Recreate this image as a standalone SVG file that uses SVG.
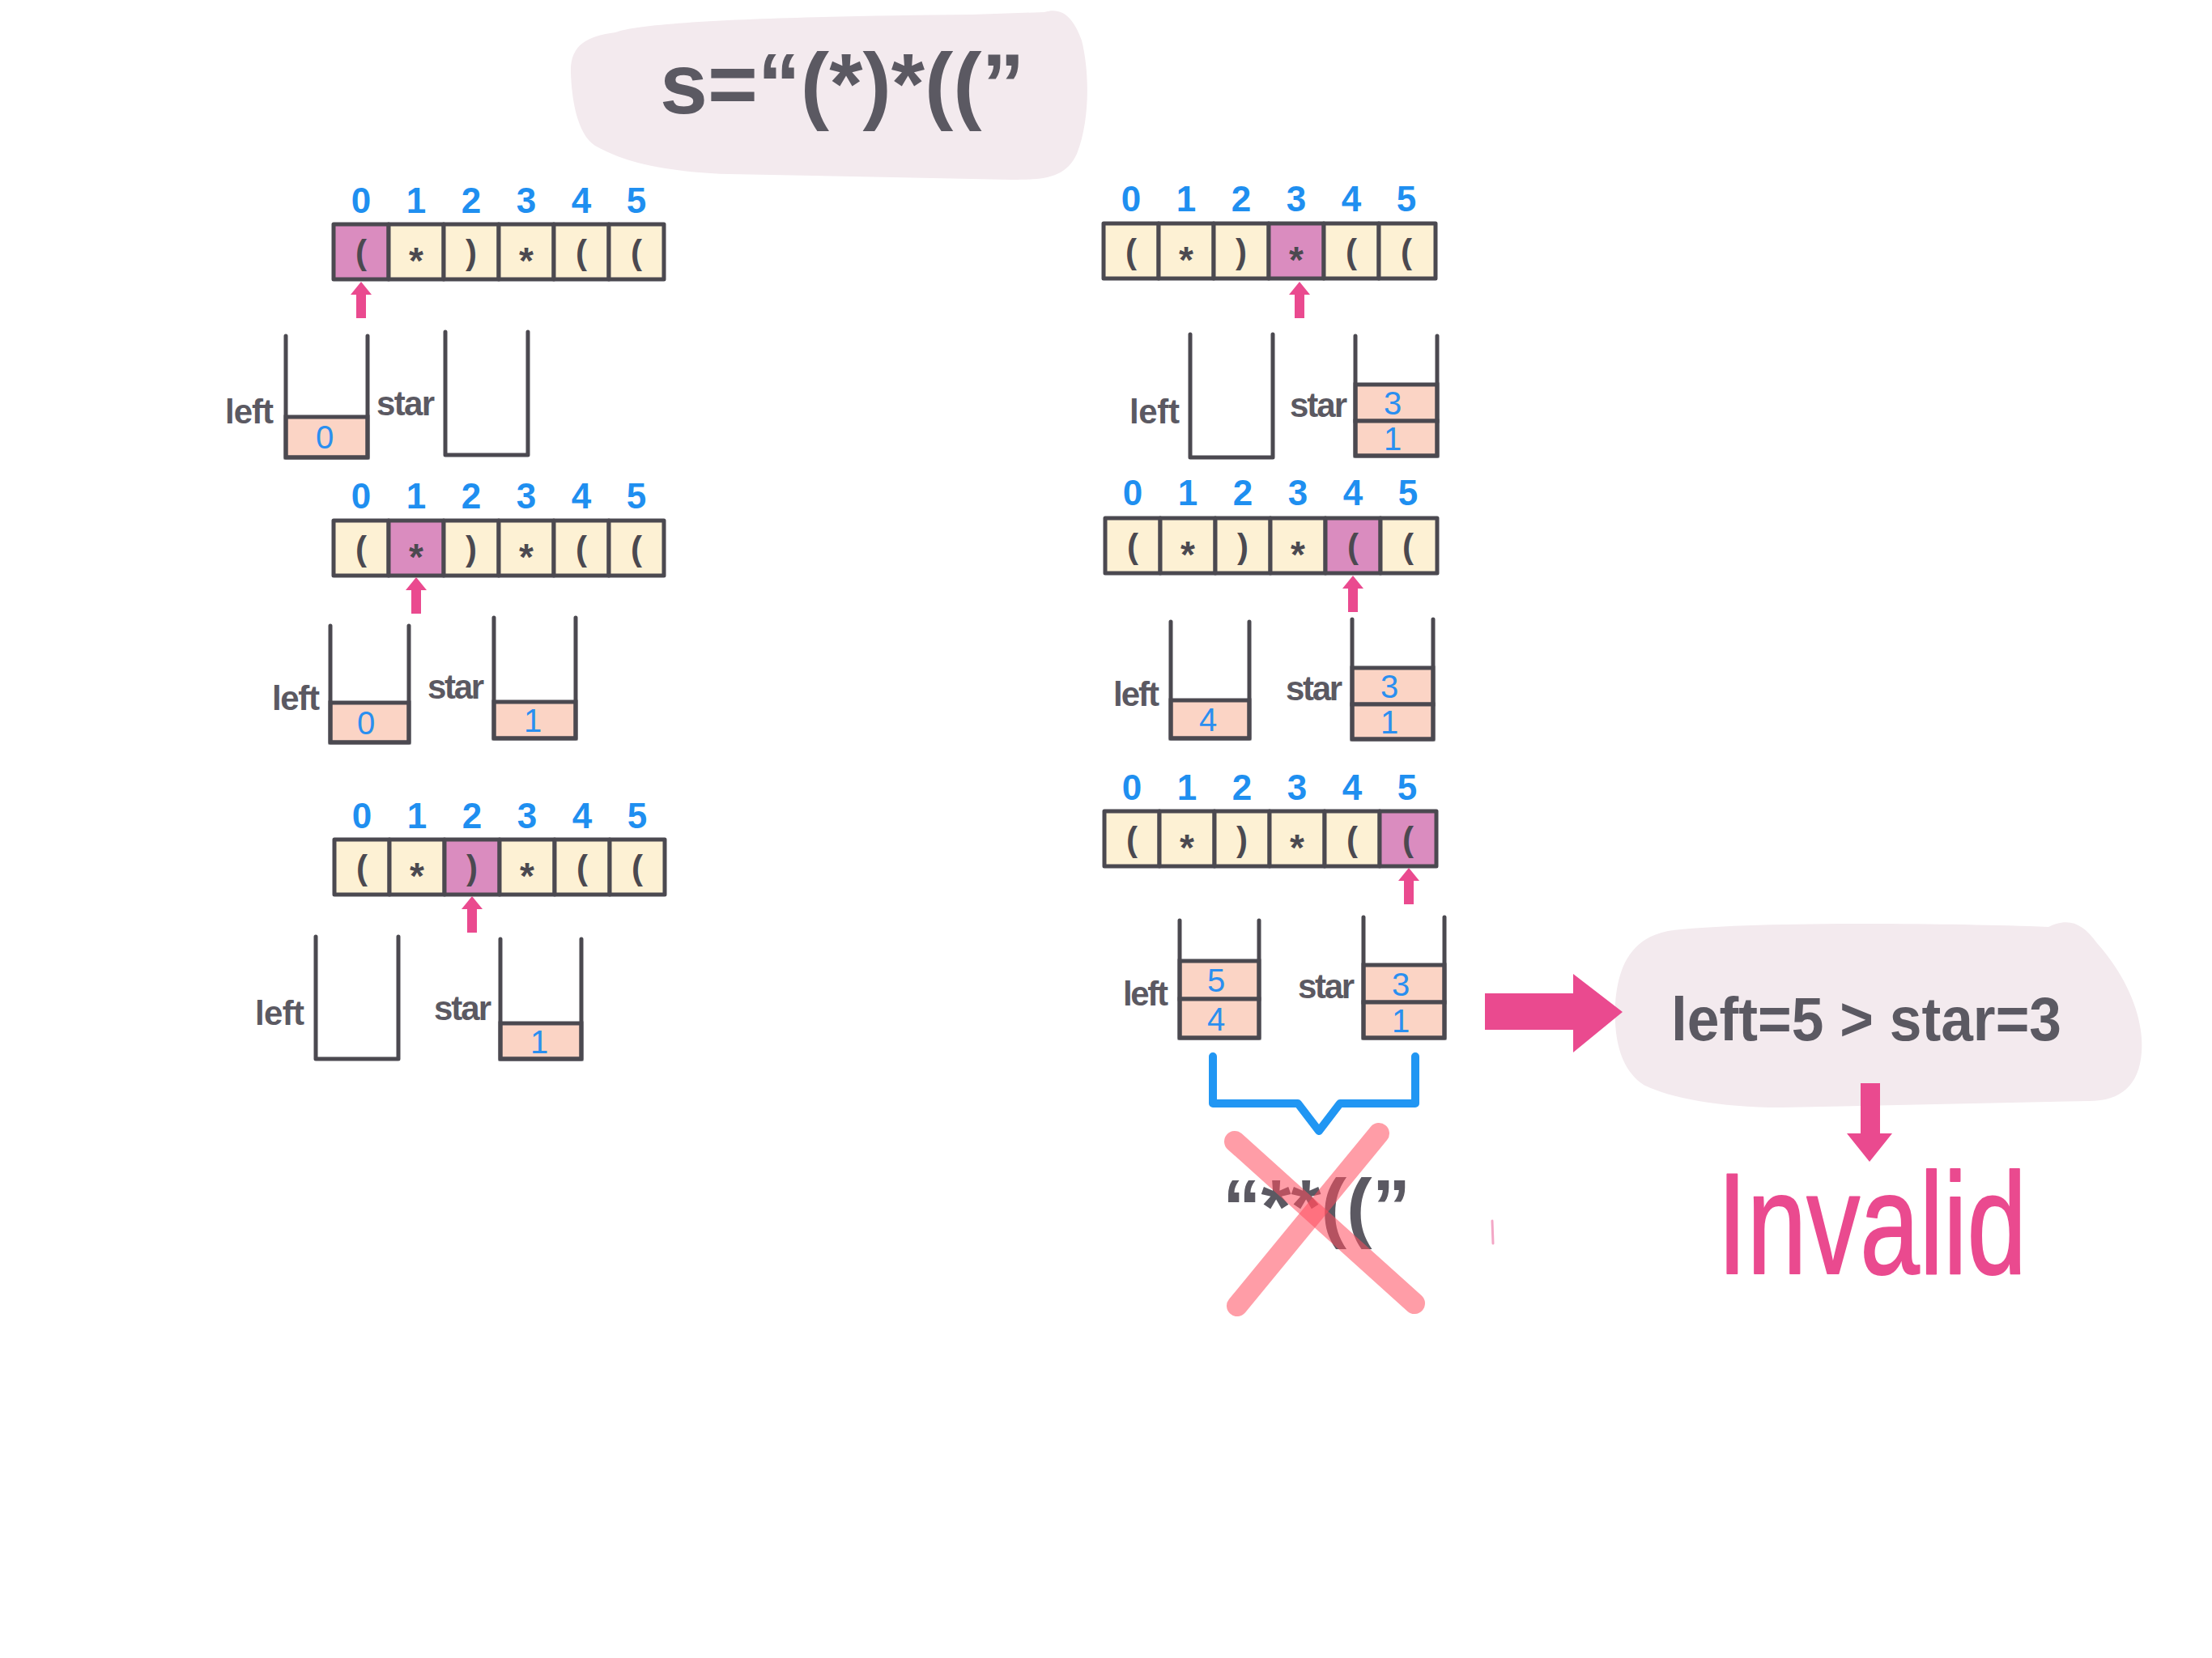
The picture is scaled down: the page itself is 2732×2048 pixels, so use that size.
<svg xmlns="http://www.w3.org/2000/svg" xmlns:xlink="http://www.w3.org/1999/xlink" width="2732" height="2048" viewBox="0 0 2732 2048">
<style>
.bg{fill:#ffffff}
.bubble{fill:#f3eaee}
.cell{fill:#fdf1d4;stroke:#4b4950;stroke-width:5;stroke-linejoin:round}
.hl{fill:#da8cbf}
.item{fill:#fbd4c5;stroke:#4b4950;stroke-width:5}
.wall{fill:none;stroke:#4b4950;stroke-width:5;stroke-linecap:round;stroke-linejoin:round}
.idx{font-family:"Liberation Sans",Arial,sans-serif;font-weight:bold;font-size:44px;fill:#1f8ff0;text-anchor:middle}
.ch{font-family:"Liberation Sans",Arial,sans-serif;font-weight:bold;font-size:42px;fill:#4b4950;text-anchor:middle}
.ast{font-family:"Liberation Sans",Arial,sans-serif;font-weight:bold;font-size:46px;fill:#4b4950;text-anchor:middle}
.num{font-family:"Liberation Sans",Arial,sans-serif;font-size:40px;fill:#2a8ff0;text-anchor:middle}
.lbl{font-family:"Liberation Sans",Arial,sans-serif;font-weight:bold;font-size:42px;fill:#5b5962}
.big{font-family:"Liberation Sans",Arial,sans-serif;font-weight:bold;fill:#5b5962}
.pink{fill:#ea4a8f}
.xline{stroke:#ff4d5e;stroke-opacity:0.55;stroke-width:26;stroke-linecap:round;fill:none}
</style>
<defs>
<path id="ptr" d="M0,0 L13,16 L6,16 L6,45 L-6,45 L-6,16 L-13,16 Z"/>
</defs>
<rect class="bg" x="0" y="0" width="2732" height="2048"/>

<g id="title">
<path class="bubble" d="M760 40 C800 25 1000 20 1200 18 L1290 15 C1312 8 1326 22 1336 50 C1346 90 1346 150 1330 190 C1316 220 1290 222 1250 222 L900 215 C820 212 770 200 735 180 C712 165 706 120 705 90 C704 55 725 45 760 40 Z"/>
<text class="big" x="815" y="140" font-size="106">s=“(*)*((”</text>
</g>

<g id="panel-1">
<text class="idx" x="446" y="263">0</text><text class="idx" x="514" y="263">1</text><text class="idx" x="582" y="263">2</text><text class="idx" x="650" y="263">3</text><text class="idx" x="718" y="263">4</text><text class="idx" x="786" y="263">5</text>
<rect class="cell hl" x="412" y="277" width="68" height="68"/><rect class="cell" x="480" y="277" width="68" height="68"/><rect class="cell" x="548" y="277" width="68" height="68"/><rect class="cell" x="616" y="277" width="68" height="68"/><rect class="cell" x="684" y="277" width="68" height="68"/><rect class="cell" x="752" y="277" width="68" height="68"/>
<text class="ch" x="446" y="326">(</text><text class="ast" x="514" y="338">*</text><text class="ch" x="582" y="326">)</text><text class="ast" x="650" y="338">*</text><text class="ch" x="718" y="326">(</text><text class="ch" x="786" y="326">(</text>
<text class="lbl" x="278" y="523" textLength="60">left</text>
<rect class="item" x="353" y="515" width="101" height="50"/><text class="num" x="401" y="554">0</text>
<path class="wall" d="M353 415 L353 565 L454 565 L454 415"/>
<text class="lbl" x="465" y="513" textLength="72">star</text>
<path class="wall" d="M550 410 L550 562 L652 562 L652 410"/>
</g>

<g id="panel-2">
<text class="idx" x="446" y="628">0</text><text class="idx" x="514" y="628">1</text><text class="idx" x="582" y="628">2</text><text class="idx" x="650" y="628">3</text><text class="idx" x="718" y="628">4</text><text class="idx" x="786" y="628">5</text>
<rect class="cell" x="412" y="643" width="68" height="68"/><rect class="cell hl" x="480" y="643" width="68" height="68"/><rect class="cell" x="548" y="643" width="68" height="68"/><rect class="cell" x="616" y="643" width="68" height="68"/><rect class="cell" x="684" y="643" width="68" height="68"/><rect class="cell" x="752" y="643" width="68" height="68"/>
<text class="ch" x="446" y="692">(</text><text class="ast" x="514" y="704">*</text><text class="ch" x="582" y="692">)</text><text class="ast" x="650" y="704">*</text><text class="ch" x="718" y="692">(</text><text class="ch" x="786" y="692">(</text>
<text class="lbl" x="336" y="877" textLength="59">left</text>
<rect class="item" x="408" y="868" width="97" height="49"/><text class="num" x="452" y="907">0</text>
<path class="wall" d="M408 773 L408 917 L505 917 L505 773"/>
<text class="lbl" x="528" y="863" textLength="70">star</text>
<rect class="item" x="610" y="867" width="101" height="45"/><text class="num" x="658" y="904">1</text>
<path class="wall" d="M610 763 L610 912 L711 912 L711 763"/>
</g>

<g id="panel-3">
<text class="idx" x="447" y="1023">0</text><text class="idx" x="515" y="1023">1</text><text class="idx" x="583" y="1023">2</text><text class="idx" x="651" y="1023">3</text><text class="idx" x="719" y="1023">4</text><text class="idx" x="787" y="1023">5</text>
<rect class="cell" x="413" y="1037" width="68" height="68"/><rect class="cell" x="481" y="1037" width="68" height="68"/><rect class="cell hl" x="549" y="1037" width="68" height="68"/><rect class="cell" x="617" y="1037" width="68" height="68"/><rect class="cell" x="685" y="1037" width="68" height="68"/><rect class="cell" x="753" y="1037" width="68" height="68"/>
<text class="ch" x="447" y="1086">(</text><text class="ast" x="515" y="1098">*</text><text class="ch" x="583" y="1086">)</text><text class="ast" x="651" y="1098">*</text><text class="ch" x="719" y="1086">(</text><text class="ch" x="787" y="1086">(</text>
<text class="lbl" x="315" y="1266" textLength="61">left</text>
<path class="wall" d="M390 1157 L390 1308 L492 1308 L492 1157"/>
<text class="lbl" x="536" y="1260" textLength="71">star</text>
<rect class="item" x="618" y="1264" width="100" height="44"/><text class="num" x="666" y="1301">1</text>
<path class="wall" d="M618 1160 L618 1308 L718 1308 L718 1160"/>
</g>

<g id="panel-4">
<text class="idx" x="1397" y="261">0</text><text class="idx" x="1465" y="261">1</text><text class="idx" x="1533" y="261">2</text><text class="idx" x="1601" y="261">3</text><text class="idx" x="1669" y="261">4</text><text class="idx" x="1737" y="261">5</text>
<rect class="cell" x="1363" y="276" width="68" height="68"/><rect class="cell" x="1431" y="276" width="68" height="68"/><rect class="cell" x="1499" y="276" width="68" height="68"/><rect class="cell hl" x="1567" y="276" width="68" height="68"/><rect class="cell" x="1635" y="276" width="68" height="68"/><rect class="cell" x="1703" y="276" width="70" height="68"/>
<text class="ch" x="1397" y="325">(</text><text class="ast" x="1465" y="337">*</text><text class="ch" x="1533" y="325">)</text><text class="ast" x="1601" y="337">*</text><text class="ch" x="1669" y="325">(</text><text class="ch" x="1737" y="325">(</text>
<text class="lbl" x="1395" y="523" textLength="62">left</text>
<path class="wall" d="M1470 413 L1470 565 L1572 565 L1572 413"/>
<text class="lbl" x="1593" y="515" textLength="71">star</text>
<rect class="item" x="1674" y="475" width="101" height="45"/><text class="num" x="1720" y="512">3</text>
<rect class="item" x="1674" y="520" width="101" height="43"/><text class="num" x="1720" y="556">1</text>
<path class="wall" d="M1674 415 L1674 563 L1775 563 L1775 415"/>
</g>

<g id="panel-5">
<text class="idx" x="1399" y="624">0</text><text class="idx" x="1467" y="624">1</text><text class="idx" x="1535" y="624">2</text><text class="idx" x="1603" y="624">3</text><text class="idx" x="1671" y="624">4</text><text class="idx" x="1739" y="624">5</text>
<rect class="cell" x="1365" y="640" width="68" height="68"/><rect class="cell" x="1433" y="640" width="68" height="68"/><rect class="cell" x="1501" y="640" width="68" height="68"/><rect class="cell" x="1569" y="640" width="68" height="68"/><rect class="cell hl" x="1637" y="640" width="68" height="68"/><rect class="cell" x="1705" y="640" width="70" height="68"/>
<text class="ch" x="1399" y="689">(</text><text class="ast" x="1467" y="701">*</text><text class="ch" x="1535" y="689">)</text><text class="ast" x="1603" y="701">*</text><text class="ch" x="1671" y="689">(</text><text class="ch" x="1739" y="689">(</text>
<text class="lbl" x="1375" y="872" textLength="57">left</text>
<rect class="item" x="1446" y="865" width="97" height="47"/><text class="num" x="1492" y="903">4</text>
<path class="wall" d="M1446 768 L1446 912 L1543 912 L1543 768"/>
<text class="lbl" x="1588" y="865" textLength="70">star</text>
<rect class="item" x="1670" y="825" width="100" height="45"/><text class="num" x="1716" y="862">3</text>
<rect class="item" x="1670" y="870" width="100" height="43"/><text class="num" x="1716" y="906">1</text>
<path class="wall" d="M1670 765 L1670 913 L1770 913 L1770 765"/>
</g>

<g id="panel-6">
<text class="idx" x="1398" y="988">0</text><text class="idx" x="1466" y="988">1</text><text class="idx" x="1534" y="988">2</text><text class="idx" x="1602" y="988">3</text><text class="idx" x="1670" y="988">4</text><text class="idx" x="1738" y="988">5</text>
<rect class="cell" x="1364" y="1002" width="68" height="68"/><rect class="cell" x="1432" y="1002" width="68" height="68"/><rect class="cell" x="1500" y="1002" width="68" height="68"/><rect class="cell" x="1568" y="1002" width="68" height="68"/><rect class="cell" x="1636" y="1002" width="68" height="68"/><rect class="cell hl" x="1704" y="1002" width="70" height="68"/>
<text class="ch" x="1398" y="1051">(</text><text class="ast" x="1466" y="1063">*</text><text class="ch" x="1534" y="1051">)</text><text class="ast" x="1602" y="1063">*</text><text class="ch" x="1670" y="1051">(</text><text class="ch" x="1739" y="1051">(</text>
<text class="lbl" x="1387" y="1242" textLength="56">left</text>
<rect class="item" x="1457" y="1187" width="98" height="47"/><text class="num" x="1502" y="1225">5</text>
<rect class="item" x="1457" y="1234" width="98" height="48"/><text class="num" x="1502" y="1273">4</text>
<path class="wall" d="M1457 1137 L1457 1282 L1555 1282 L1555 1137"/>
<text class="lbl" x="1603" y="1233" textLength="70">star</text>
<rect class="item" x="1684" y="1192" width="100" height="46"/><text class="num" x="1730" y="1230">3</text>
<rect class="item" x="1684" y="1238" width="100" height="44"/><text class="num" x="1730" y="1275">1</text>
<path class="wall" d="M1684 1133 L1684 1282 L1784 1282 L1784 1133"/>
</g>

<g id="result">
<path class="bubble" d="M2060 1150 C2150 1138 2400 1140 2530 1145 C2555 1133 2572 1140 2590 1165 C2630 1210 2648 1260 2645 1300 C2642 1340 2620 1360 2580 1360 L2200 1368 C2120 1368 2060 1355 2030 1340 C2000 1320 1993 1280 1995 1240 C1998 1200 2010 1160 2060 1150 Z"/>
<text class="big" x="2064" y="1285" font-size="76" textLength="482" lengthAdjust="spacingAndGlyphs">left=5 &gt; star=3</text>
</g>

<g id="invalid">
<text x="2121" y="1573" font-family="'Liberation Sans',Arial,sans-serif" font-size="178" fill="#ea4a8f" stroke="#ea4a8f" stroke-width="2" stroke-linejoin="round" textLength="382" lengthAdjust="spacingAndGlyphs">Invalid</text>
</g>

<g id="crossed">
<path fill="none" stroke="#2196f3" stroke-width="10" stroke-linecap="round" stroke-linejoin="round" d="M1498 1305 L1498 1363 L1603 1363 L1629 1397 L1655 1363 L1748 1363 L1748 1305"/>
<text class="big" x="1510" y="1523" font-size="95">“**((”</text>
<line class="xline" x1="1525" y1="1410" x2="1747" y2="1610"/>
<line class="xline" x1="1703" y1="1400" x2="1528" y2="1613"/>
<line x1="1843" y1="1508" x2="1844" y2="1536" stroke="#f3a7c6" stroke-width="3" stroke-linecap="round"/>
</g>

<g id="connectors">
<g class="pink">
<use xlink:href="#ptr" x="446" y="348"/>
<use xlink:href="#ptr" x="514" y="713"/>
<use xlink:href="#ptr" x="583" y="1107"/>
<use xlink:href="#ptr" x="1605" y="348"/>
<use xlink:href="#ptr" x="1671" y="711"/>
<use xlink:href="#ptr" x="1740" y="1072"/>
<polygon points="1834,1227 1943,1227 1943,1203 2004,1250 1943,1300 1943,1272 1834,1272"/>
<polygon points="2298,1338 2322,1338 2322,1400 2337,1400 2309,1435 2281,1400 2298,1400"/>
</g>
</g>
</svg>
